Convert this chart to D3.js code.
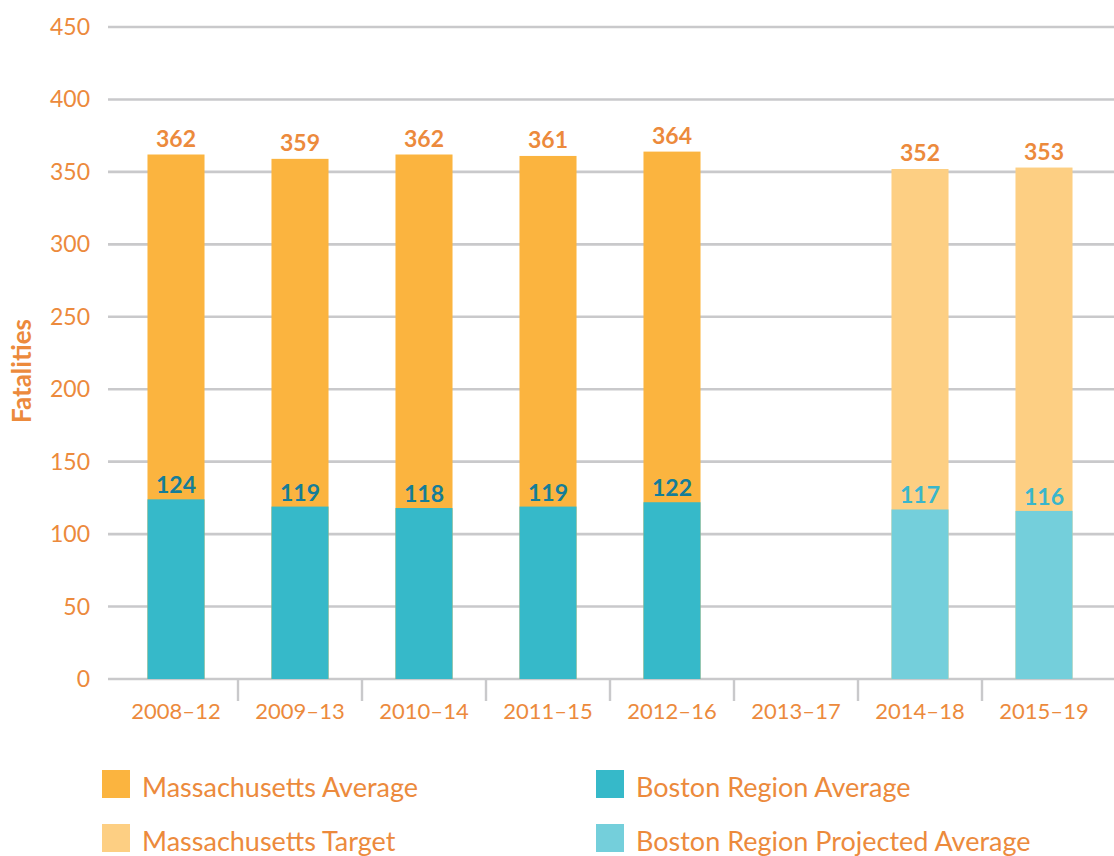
<!DOCTYPE html>
<html>
<head>
<meta charset="utf-8">
<script src="https://cdn.jsdelivr.net/npm/d3@7"></script>
<style>
  html, body { margin: 0; padding: 0; background: #ffffff; }
  svg { display: block; font-family: Lato, "Open Sans", sans-serif; }
</style>
</head>
<body>
<svg id="chart" width="1114" height="856"></svg>
<script>
// Five-year rolling averages of traffic fatalities
const periods = ["2008–12", "2009–13", "2010–14", "2011–15", "2012–16", "2013–17", "2014–18", "2015–19"];
const massValues   = [362, 359, 362, 361, 364, null, 352, 353];
const bostonValues = [124, 119, 118, 119, 122, null, 117, 116];
const projected    = [false, false, false, false, false, false, true, true];
const yTicks = [0, 50, 100, 150, 200, 250, 300, 350, 400, 450];

const legendItems = [
  { label: "Massachusetts Average", key: "massAvg" },
  { label: "Massachusetts Target", key: "massTarget" },
  { label: "Boston Region Average", key: "bostonAvg" },
  { label: "Boston Region Projected Average", key: "bostonProj" }
];

const colors = {
  massAvg: "#fbb43f",
  massTarget: "#fdcf83",
  bostonAvg: "#36b9c9",
  bostonProj: "#74cfdb",
  text: "#ec8a3c",
  grid: "#c9c9cb",
  bostonLabel: "#157d98",
  bostonProjLabel: "#39b6cc"
};

const svg = d3.select("#chart");

const plotLeft = 108, plotRight = 1114;
const x = d3.scaleBand().domain(periods).range([114, 1106]).paddingInner(0.54).paddingOuter(0.27);
const y = d3.scaleLinear().domain([0, 450]).range([679, 27]);

// Horizontal gridlines and the zero line
svg.append("g").selectAll("line").data(yTicks).join("line")
  .attr("x1", plotLeft).attr("x2", plotRight)
  .attr("y1", d => y(d)).attr("y2", d => y(d))
  .attr("stroke", colors.grid).attr("stroke-width", 2.6);

// Y tick labels
svg.append("g").selectAll("text").data(yTicks).join("text")
  .attr("x", 90).attr("y", d => y(d)).attr("dy", "0.35em")
  .attr("text-anchor", "end")
  .attr("fill", colors.text)
  .attr("font-size", 23)
  .text(d => d);

// Y axis title
svg.append("text")
  .attr("transform", `translate(31, 371) rotate(-90)`)
  .attr("text-anchor", "middle")
  .attr("fill", colors.text)
  .attr("font-size", 26).attr("font-weight", 700)
  .text("Fatalities");

// Separators between categories below the baseline
const step = x.step();
const bandStart = x.range()[0];
const seps = periods.slice(1).map((p, i) => bandStart + step * (i + 1));
svg.append("g").selectAll("line").data(seps).join("line")
  .attr("x1", d => d).attr("x2", d => d)
  .attr("y1", y(0)).attr("y2", y(0) + 22)
  .attr("stroke", colors.grid).attr("stroke-width", 2.4);

// Category labels
svg.append("g").selectAll("text").data(periods).join("text")
  .attr("x", d => x(d) + x.bandwidth() / 2).attr("y", 719)
  .attr("text-anchor", "middle")
  .attr("fill", colors.text)
  .attr("font-size", 22)
  .text(d => d);

const rows = periods.map((p, i) => ({ period: p, mass: massValues[i], boston: bostonValues[i], proj: projected[i] }))
  .filter(d => d.mass != null);

// Statewide bars
svg.append("g").selectAll("rect").data(rows).join("rect")
  .attr("x", d => x(d.period)).attr("width", x.bandwidth())
  .attr("y", d => y(d.mass)).attr("height", d => y(0) - y(d.mass))
  .attr("fill", d => d.proj ? colors.massTarget : colors.massAvg);

// Boston region bars, drawn in front
svg.append("g").selectAll("rect").data(rows).join("rect")
  .attr("x", d => x(d.period)).attr("width", x.bandwidth())
  .attr("y", d => y(d.boston)).attr("height", d => y(0) - y(d.boston))
  .attr("fill", d => d.proj ? colors.bostonProj : colors.bostonAvg);

// Value labels
svg.append("g").selectAll("text").data(rows).join("text")
  .attr("x", d => x(d.period) + x.bandwidth() / 2).attr("y", d => y(d.mass) - 8)
  .attr("text-anchor", "middle")
  .attr("fill", colors.text)
  .attr("font-size", 23).attr("font-weight", 700)
  .text(d => d.mass);

svg.append("g").selectAll("text").data(rows).join("text")
  .attr("x", d => x(d.period) + x.bandwidth() / 2).attr("y", d => y(d.boston) - 6)
  .attr("text-anchor", "middle")
  .attr("fill", d => d.proj ? colors.bostonProjLabel : colors.bostonLabel)
  .attr("font-size", 23).attr("font-weight", 700)
  .text(d => d.boston);

// Legend
const legendPos = [
  { x: 102, y: 770 }, { x: 102, y: 824 },
  { x: 596, y: 770 }, { x: 596, y: 824 }
];
const lg = svg.append("g").selectAll("g").data(legendItems).join("g")
  .attr("transform", (d, i) => `translate(${legendPos[i].x}, ${legendPos[i].y})`);
lg.append("rect").attr("width", 28).attr("height", 28).attr("fill", d => colors[d.key]);
lg.append("text")
  .attr("x", 40).attr("y", 27)
  .attr("fill", colors.text)
  .attr("font-size", 27)
  .text(d => d.label);
</script>
</body>
</html>
